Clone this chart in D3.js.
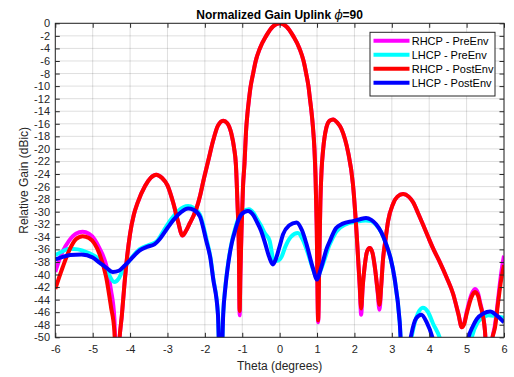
<html>
<head>
<meta charset="utf-8">
<title>Normalized Gain Uplink</title>
<style>
    body { margin: 0; background: #fff; }
    text { font-family: Arial, "Liberation Sans", Helvetica, sans-serif; }
</style>
</head>
<body>
<script src="https://cdn.jsdelivr.net/npm/d3@7"></script>
<script>
var width = 514, height = 377;
var plotLeft = 55.3, plotRight = 504, plotTop = 23.3, plotBottom = 337.3;

// [theta, gain dB]
var rhcpPre = [[-6,-39.6],[-5.9,-37.8],[-5.8,-36.3],[-5.63,-34.6],[-5.45,-33.5],[-5.27,-33.2],[-5.1,-33.5],[-4.95,-34.4],[-4.82,-35.8],[-4.64,-38.5],[-4.51,-42.5],[-4.42,-47],[-4.36,-58],[-4.28,-50],[-4.22,-46.5],[-4.15,-41.5],[-4.08,-37.2],[-4.0,-33.5],[-3.9,-30.5],[-3.8,-28.6],[-3.6,-25.9],[-3.45,-24.6],[-3.3,-24.1],[-3.15,-24.6],[-3.0,-25.8],[-2.85,-28.5],[-2.72,-31.5],[-2.6,-33.8],[-2.5,-33.0],[-2.4,-31.8],[-2.3,-30.6],[-2.22,-29.4],[-2.13,-27.5],[-2.04,-25.1],[-1.91,-21.9],[-1.78,-18.7],[-1.65,-16.3],[-1.51,-15.5],[-1.4,-15.9],[-1.29,-17.6],[-1.22,-19.8],[-1.17,-22.5],[-1.13,-28.3],[-1.09,-36.3],[-1.07,-46.5],[-1.05,-40],[-1.02,-33],[-0.98,-26],[-0.94,-22.3],[-0.9,-17.3],[-0.86,-14.3],[-0.82,-12.1],[-0.78,-10.2],[-0.71,-8],[-0.64,-6],[-0.53,-4],[-0.36,-2],[-0.18,-0.5],[0,0],[0.18,-0.5],[0.36,-2],[0.53,-4],[0.64,-6],[0.71,-8],[0.77,-10],[0.81,-12],[0.85,-14],[0.89,-16.5],[0.93,-20],[0.96,-24.5],[0.99,-32],[1.03,-47.6],[1.06,-38],[1.09,-28.3],[1.12,-23.5],[1.16,-20.3],[1.25,-16.6],[1.34,-15.5],[1.43,-15.3],[1.54,-15.8],[1.65,-16.8],[1.75,-18.5],[1.83,-20.5],[1.96,-25.6],[2.06,-33.6],[2.14,-41.8],[2.18,-46.4],[2.22,-42],[2.27,-38.9],[2.34,-36.3],[2.41,-35.8],[2.48,-36.5],[2.55,-39],[2.62,-42.8],[2.67,-45.6],[2.72,-41.5],[2.76,-37.9],[2.83,-34.5],[2.9,-31.5],[3.03,-28.8],[3.15,-27.6],[3.3,-27.2],[3.45,-27.6],[3.57,-28.5],[3.7,-30.2],[3.83,-32],[3.97,-34],[4.1,-35.8],[4.28,-38],[4.46,-40.4],[4.64,-43.1],[4.78,-46.3],[4.87,-48.4],[4.94,-47.6],[5.0,-46],[5.13,-43.2],[5.22,-42.3],[5.3,-42.9],[5.36,-44.4],[5.49,-48.9],[5.58,-58],[5.68,-50.5],[5.76,-48],[5.85,-43.5],[5.92,-40],[6,-37]];

var lhcpPre = [[-6,-36.9],[-5.8,-36.3],[-5.63,-35.9],[-5.4,-36.0],[-5.1,-36.6],[-4.91,-37.2],[-4.64,-39.2],[-4.42,-41.2],[-4.3,-40.6],[-4.2,-39.4],[-3.97,-37.4],[-3.75,-36.0],[-3.5,-35.3],[-3.3,-34.8],[-3.1,-33.0],[-2.9,-31.2],[-2.7,-29.8],[-2.45,-29.1],[-2.3,-29.4],[-2.13,-30.5],[-1.96,-34.3],[-1.85,-37.3],[-1.78,-40.4],[-1.65,-46.2],[-1.58,-60],[-1.51,-46.2],[-1.45,-41.8],[-1.38,-38.3],[-1.28,-34.8],[-1.2,-32.9],[-1.1,-31],[-1.0,-30],[-0.82,-29.6],[-0.7,-30.2],[-0.62,-31.0],[-0.5,-32.2],[-0.4,-33.4],[-0.27,-34.6],[-0.16,-37.6],[-0.05,-37.8],[0.05,-37.2],[0.15,-35.6],[0.3,-34.0],[0.49,-33.4],[0.62,-34.5],[0.75,-36.5],[0.9,-39.3],[1.0,-40.6],[1.08,-39.6],[1.16,-38.3],[1.34,-35.2],[1.51,-33.2],[1.78,-32.0],[2.05,-31.6],[2.3,-31.4],[2.45,-31.5],[2.58,-32.1],[2.72,-33.3],[2.85,-35.2],[2.97,-37.5],[3.07,-40.5],[3.21,-47.5],[3.33,-60],[3.45,-53],[3.56,-49],[3.7,-46.2],[3.83,-45.3],[3.97,-46.0],[4.1,-47.8],[4.29,-50.2],[4.45,-54],[4.75,-60],[5.02,-54],[5.13,-50.2],[5.3,-47.6],[5.45,-46.8],[5.58,-46.5],[5.75,-46.6],[6,-46.9]];

var rhcpPost = [[-6,-42.3],[-5.9,-40.5],[-5.8,-38.8],[-5.63,-36.2],[-5.45,-34.4],[-5.27,-33.9],[-5.1,-34.2],[-4.95,-35.1],[-4.82,-36.7],[-4.64,-40.4],[-4.51,-45.2],[-4.42,-49],[-4.36,-58],[-4.28,-50],[-4.22,-46.5],[-4.15,-41.5],[-4.08,-37.2],[-4.0,-33.5],[-3.9,-30.5],[-3.8,-28.6],[-3.6,-25.9],[-3.45,-24.6],[-3.3,-24.1],[-3.15,-24.6],[-3.0,-25.8],[-2.85,-28.5],[-2.72,-31.5],[-2.6,-33.8],[-2.5,-33.0],[-2.4,-31.8],[-2.3,-30.6],[-2.22,-29.4],[-2.13,-27.5],[-2.04,-25.1],[-1.91,-21.9],[-1.78,-18.7],[-1.65,-16.3],[-1.51,-15.5],[-1.4,-15.9],[-1.29,-17.6],[-1.22,-19.8],[-1.17,-22.5],[-1.13,-28.3],[-1.09,-36.3],[-1.07,-45.8],[-1.05,-40],[-1.02,-33],[-0.98,-26],[-0.94,-22.3],[-0.9,-17.3],[-0.86,-14.3],[-0.82,-12.1],[-0.78,-10.2],[-0.71,-8],[-0.64,-6],[-0.53,-4],[-0.36,-2],[-0.18,-0.5],[0,0],[0.18,-0.5],[0.36,-2],[0.53,-4],[0.64,-6],[0.71,-8],[0.77,-10],[0.81,-12],[0.85,-14],[0.89,-16.5],[0.93,-20],[0.96,-24.5],[0.99,-32],[1.03,-47.3],[1.06,-38],[1.09,-28.3],[1.12,-23.5],[1.16,-20.3],[1.25,-16.6],[1.34,-15.5],[1.43,-15.3],[1.54,-15.8],[1.65,-16.8],[1.75,-18.5],[1.83,-20.5],[1.96,-25.6],[2.06,-33.6],[2.14,-41.6],[2.18,-45.4],[2.22,-42],[2.27,-38.9],[2.34,-36.3],[2.41,-35.8],[2.48,-36.5],[2.55,-39],[2.62,-42.5],[2.67,-44.8],[2.72,-41.5],[2.76,-37.9],[2.83,-34.5],[2.9,-31.5],[3.03,-28.8],[3.15,-27.6],[3.3,-27.2],[3.45,-27.6],[3.57,-28.5],[3.7,-30.2],[3.83,-32],[3.97,-34],[4.1,-35.8],[4.28,-38],[4.46,-40.4],[4.64,-43.1],[4.78,-46.3],[4.87,-48.4],[4.94,-47.8],[5.0,-46.3],[5.13,-43.6],[5.22,-42.8],[5.3,-43.3],[5.36,-44.7],[5.49,-48.9],[5.58,-58],[5.68,-50.5],[5.76,-48.4],[5.85,-44.1],[5.92,-41],[6,-38.5]];

var lhcpPost = [[-6,-37.6],[-5.8,-37.2],[-5.6,-36.9],[-5.3,-36.8],[-5.0,-37.3],[-4.8,-38.2],[-4.64,-38.9],[-4.46,-39.6],[-4.3,-39.4],[-4.15,-38.6],[-3.97,-37.5],[-3.75,-36.2],[-3.55,-35.6],[-3.35,-35.2],[-3.2,-34.3],[-3.0,-32.6],[-2.84,-31.3],[-2.62,-30.0],[-2.45,-29.5],[-2.3,-29.7],[-2.13,-30.8],[-1.96,-34.7],[-1.85,-37.5],[-1.78,-40.6],[-1.65,-46.4],[-1.58,-60],[-1.51,-46.4],[-1.45,-42],[-1.38,-38.5],[-1.28,-35],[-1.2,-33.2],[-1.1,-31.3],[-1.02,-30.4],[-0.85,-29.9],[-0.7,-30.6],[-0.62,-31.5],[-0.5,-33],[-0.39,-35],[-0.28,-37.2],[-0.18,-38.4],[-0.1,-37.5],[0.0,-35.5],[0.09,-33.6],[0.25,-32.2],[0.45,-31.7],[0.6,-33],[0.72,-35.2],[0.89,-39],[1.0,-40.8],[1.08,-39.5],[1.16,-37.9],[1.25,-36.0],[1.34,-34.7],[1.51,-32.6],[1.69,-31.9],[1.96,-31.5],[2.15,-31.2],[2.31,-31.0],[2.45,-31.3],[2.58,-32],[2.72,-33.3],[2.85,-35.2],[2.97,-37.5],[3.07,-40.5],[3.21,-47.5],[3.33,-60],[3.45,-52],[3.52,-49.6],[3.65,-47.0],[3.79,-46.4],[3.93,-47.6],[4.1,-50.3],[4.3,-56],[4.7,-60],[4.95,-53],[5.04,-50.2],[5.17,-48.2],[5.27,-47.1],[5.45,-46.2],[5.63,-45.9],[5.8,-46.5],[6,-47.6]];

var seriesNames = ["RHCP - PreEnv", "LHCP - PreEnv", "RHCP - PostEnv", "LHCP - PostEnv"];
var seriesColors = ["#ff00ff", "#00ffff", "#ff0000", "#0000ff"];
var seriesData = [rhcpPre, lhcpPre, rhcpPost, lhcpPost];
var xTicks = d3.range(-6, 7, 1);
var yTicks = d3.range(-50, 1, 2);

var svg = d3.select("body")
    .append("svg")
    .attr("width", width)
    .attr("height", height);

var x = d3.scaleLinear().domain([-6, 6]).range([plotLeft, plotRight]);
var y = d3.scaleLinear().domain([-50, 0]).range([plotBottom, plotTop]);

// grid
var grid = svg.append("g")
    .attr("stroke", "#262626")
    .attr("stroke-opacity", 0.15)
    .attr("stroke-width", 1);
grid.selectAll(".gx").data(xTicks).enter().append("line")
    .attr("x1", d => x(d)).attr("x2", d => x(d))
    .attr("y1", plotTop).attr("y2", plotBottom);
grid.selectAll(".gy").data(yTicks).enter().append("line")
    .attr("x1", plotLeft).attr("x2", plotRight)
    .attr("y1", d => y(d)).attr("y2", d => y(d));

// curves
svg.append("clipPath").attr("id", "clip")
    .append("rect")
    .attr("x", plotLeft).attr("y", plotTop)
    .attr("width", plotRight - plotLeft).attr("height", plotBottom - plotTop);

var line = d3.line()
    .x(d => x(d[0]))
    .y(d => y(d[1]))
    .curve(d3.curveMonotoneX);

svg.append("g")
    .attr("clip-path", "url(#clip)")
    .selectAll("path")
    .data(seriesData)
    .enter()
    .append("path")
    .attr("fill", "none")
    .attr("stroke", (d, i) => seriesColors[i])
    .attr("stroke-width", 4)
    .attr("stroke-linejoin", "round")
    .attr("d", d => line(d));

// axes, ticks pointing inward
function styleAxis(g) {
    g.select(".domain").remove();
    g.selectAll("line").attr("stroke", "#262626");
    g.selectAll("text").attr("fill", "#262626").attr("font-size", 11)
        .attr("font-family", "Arial, 'Liberation Sans', sans-serif");
}
var plain = d => String(d);
svg.append("g").attr("transform", "translate(0," + plotBottom + ")")
    .call(d3.axisBottom(x).tickValues(xTicks).tickFormat(plain).tickSize(-4.5).tickPadding(7.5))
    .call(styleAxis);
svg.append("g").attr("transform", "translate(0," + plotTop + ")")
    .call(d3.axisTop(x).tickValues(xTicks).tickSize(-4.5).tickFormat(""))
    .call(styleAxis);
svg.append("g").attr("transform", "translate(" + plotLeft + ",0)")
    .call(d3.axisLeft(y).tickValues(yTicks).tickFormat(plain).tickSize(-4.5).tickPadding(5.3))
    .call(styleAxis);
svg.append("g").attr("transform", "translate(" + plotRight + ",0)")
    .call(d3.axisRight(y).tickValues(yTicks).tickSize(-4.5).tickFormat(""))
    .call(styleAxis);

svg.append("rect")
    .attr("x", plotLeft).attr("y", plotTop)
    .attr("width", plotRight - plotLeft).attr("height", plotBottom - plotTop)
    .attr("fill", "none")
    .attr("stroke", "#262626")
    .attr("stroke-width", 1);

// title and labels
var title = svg.append("text")
    .attr("x", (plotLeft + plotRight) / 2)
    .attr("y", 18.5)
    .attr("text-anchor", "middle")
    .attr("font-size", 12)
    .attr("font-weight", "bold")
    .attr("fill", "#000");
title.append("tspan").text("Normalized Gain Uplink ");
title.append("tspan").attr("font-style", "italic").attr("font-weight", "normal")
    .attr("font-family", "'DejaVu Serif', serif").text("ϕ");
title.append("tspan").text("=90");

svg.append("text")
    .attr("x", (plotLeft + plotRight) / 2)
    .attr("y", 370)
    .attr("text-anchor", "middle")
    .attr("font-size", 12)
    .attr("fill", "#262626")
    .text("Theta (degrees)");

svg.append("text")
    .attr("transform", "translate(27.5," + ((plotTop + plotBottom) / 2) + ") rotate(-90)")
    .attr("text-anchor", "middle")
    .attr("font-size", 12)
    .attr("fill", "#262626")
    .text("Relative Gain (dBic)");

// legend
var legend = svg.append("g");
legend.append("rect")
    .attr("x", 370).attr("y", 32.3)
    .attr("width", 125).attr("height", 63.7)
    .attr("fill", "#fff")
    .attr("stroke", "#262626")
    .attr("stroke-width", 1);
var items = legend.selectAll(".item")
    .data(seriesNames)
    .enter()
    .append("g")
    .attr("transform", (d, i) => "translate(0," + (40.8 + i * 14) + ")");
items.append("line")
    .attr("x1", 373.5).attr("x2", 409.5)
    .attr("stroke", (d, i) => seriesColors[i])
    .attr("stroke-width", 4);
items.append("text")
    .attr("x", 411.7)
    .attr("dy", "0.35em")
    .attr("font-size", 11)
    .attr("fill", "#000")
    .text(d => d);
</script>
</body>
</html>
